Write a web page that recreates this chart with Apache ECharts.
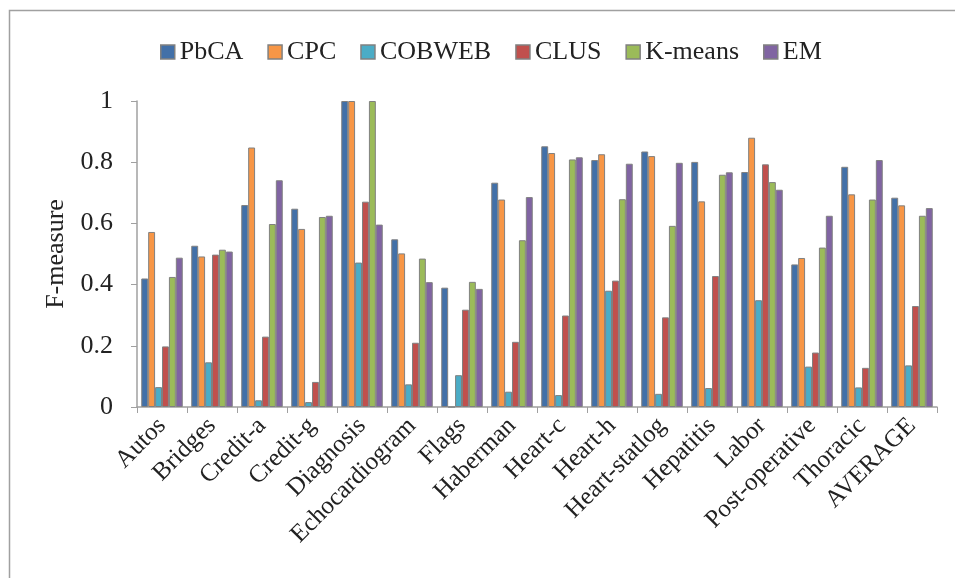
<!DOCTYPE html>
<html>
<head>
<meta charset="utf-8">
<script src="https://cdn.jsdelivr.net/npm/echarts@6/dist/echarts.min.js"></script>
<style>
  html, body { margin: 0; padding: 0; background: #fff; }
  #chart { width: 955px; height: 578px; }
</style>
</head>
<body>
<div id="chart"></div>
<script>
// datasets on the x axis
var categories = ['Autos', 'Bridges', 'Credit-a', 'Credit-g', 'Diagnosis', 'Echocardiogram',
  'Flags', 'Haberman', 'Heart-c', 'Heart-h', 'Heart-statlog', 'Hepatitis', 'Labor',
  'Post-operative', 'Thoracic', 'AVERAGE'];

// F-measure per method
var pbca   = [0.42, 0.527, 0.66, 0.648, 1.0, 0.548, 0.39, 0.733, 0.852, 0.807, 0.835, 0.801, 0.768, 0.466, 0.785, 0.684];
var cpc    = [0.572, 0.492, 0.848, 0.582, 1.0, 0.502, 0, 0.678, 0.83, 0.826, 0.82, 0.672, 0.88, 0.487, 0.695, 0.659];
var cobweb = [0.065, 0.146, 0.022, 0.016, 0.472, 0.074, 0.104, 0.05, 0.039, 0.38, 0.043, 0.062, 0.349, 0.132, 0.064, 0.136];
var clus   = [0.198, 0.498, 0.23, 0.082, 0.671, 0.21, 0.318, 0.213, 0.299, 0.413, 0.293, 0.428, 0.793, 0.178, 0.128, 0.33];
var kmeans = [0.425, 0.514, 0.598, 0.621, 1.0, 0.485, 0.409, 0.545, 0.809, 0.679, 0.592, 0.759, 0.735, 0.521, 0.678, 0.625];
var em     = [0.488, 0.508, 0.741, 0.625, 0.596, 0.408, 0.386, 0.686, 0.816, 0.795, 0.798, 0.767, 0.71, 0.625, 0.807, 0.65];

var yTicks = [0, 0.2, 0.4, 0.6, 0.8, 1];

var names = ['PbCA', 'CPC', 'COBWEB', 'CLUS', 'K-means', 'EM'];
var values = [pbca, cpc, cobweb, clus, kmeans, em];
var colors = ['#4270A8', '#F79646', '#4BACC6', '#C0504D', '#9BBB59', '#8064A2'];

var font = '"Liberation Serif", "Times New Roman", serif';

var chart = echarts.init(document.getElementById('chart'));

var series = names.map(function (n, i) {
  return {
    name: n,
    type: 'bar',
    data: values[i],
    barGap: '0%',
    barCategoryGap: '17%',
    itemStyle: { color: colors[i], borderColor: '#808080', borderWidth: 1 }
  };
});

var option = {
  animation: false,
  backgroundColor: '#fff',
  color: colors,
  graphic: [{
    type: 'rect',
    shape: { x: 9.5, y: 10.5, width: 1000, height: 700 },
    style: { fill: 'none', stroke: '#a0a0a0', lineWidth: 1.5 },
    silent: true
  }],
  legend: {
    top: 34,
    left: 155,
    itemWidth: 14,
    itemHeight: 14,
    itemGap: 24,
    icon: 'rect',
    itemStyle: { borderColor: '#808080', borderWidth: 1.5 },
    textStyle: { fontFamily: font, fontSize: 26, color: '#222' },
    data: names
  },
  grid: { left: 137, right: 18, top: 101, bottom: 171 },
  xAxis: {
    type: 'category',
    data: categories,
    axisLine: { lineStyle: { color: '#a0a0a0', width: 1.5 } },
    axisTick: { show: true, length: 6, lineStyle: { color: '#a0a0a0' } },
    axisLabel: {
      rotate: 45,
      interval: 0,
      margin: 15,
      fontFamily: font,
      fontSize: 25,
      color: '#222'
    }
  },
  yAxis: {
    type: 'value',
    min: yTicks[0],
    max: yTicks[yTicks.length - 1],
    interval: 0.2,
    name: 'F-measure',
    nameLocation: 'middle',
    nameGap: 66,
    nameTextStyle: { fontFamily: font, fontSize: 26, color: '#222' },
    axisLine: { show: true, lineStyle: { color: '#a0a0a0', width: 1.5 } },
    axisTick: { show: true, length: 6, lineStyle: { color: '#a0a0a0' } },
    splitLine: { show: false },
    axisLabel: {
      margin: 24,
      fontFamily: font,
      fontSize: 26,
      color: '#222',
      formatter: function (v) { return String(Math.round(v * 10) / 10); }
    }
  },
  series: series
};

chart.setOption(option);
</script>
</body>
</html>
